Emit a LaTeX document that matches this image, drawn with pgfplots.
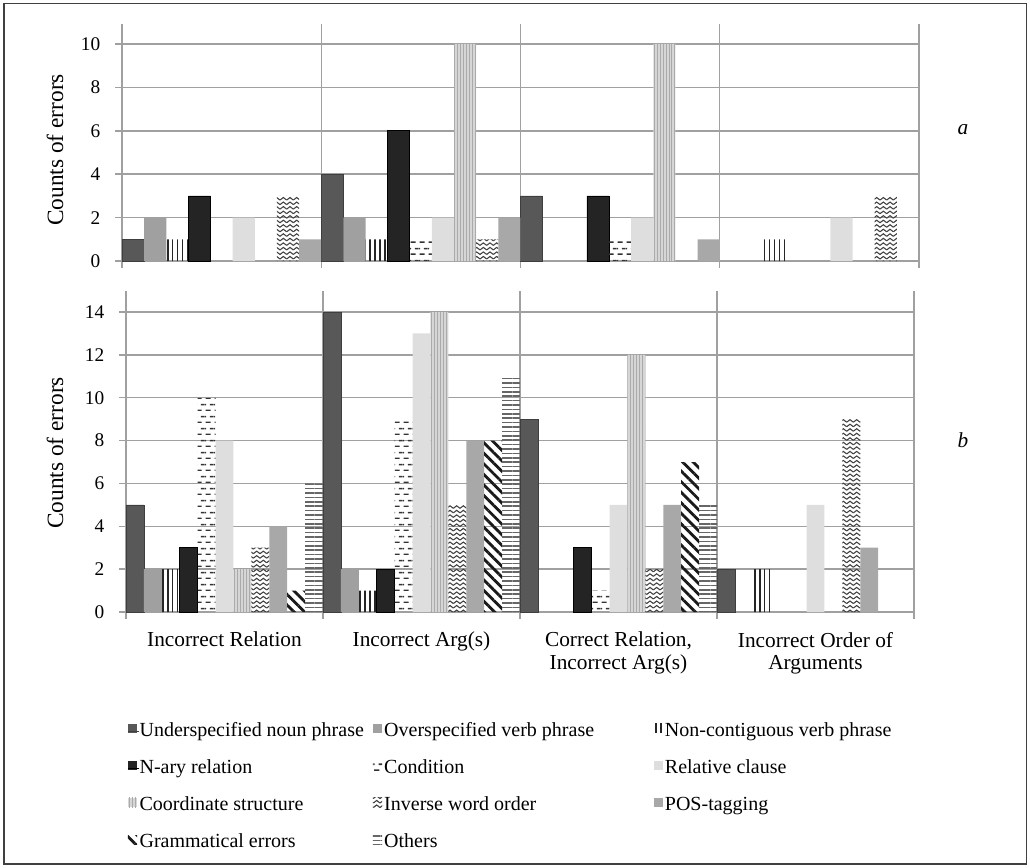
\documentclass[border=0pt]{standalone}
\usepackage{pgfplots}
\pgfplotsset{compat=1.18}
\usepackage{pgfplotstable}
\usepackage{fontspec}
\setmainfont{Liberation Serif}
\usetikzlibrary{patterns,patterns.meta}

\definecolor{gridc}{RGB}{160,160,160}
\definecolor{underc}{RGB}{88,88,88}
\definecolor{overc}{RGB}{160,160,160}
\definecolor{naryc}{RGB}{36,36,36}
\definecolor{relc}{RGB}{222,222,222}
\definecolor{coordc}{RGB}{214,214,214}
\definecolor{coordl}{RGB}{170,170,170}
\definecolor{posc}{RGB}{168,168,168}
\definecolor{framec}{RGB}{64,64,64}

\pgfdeclarepatternformonly{condash}{\pgfqpoint{0pt}{0pt}}{\pgfqpoint{7pt}{9pt}}{\pgfqpoint{7pt}{9pt}}{%
  \pgfpathrectangle{\pgfqpoint{0.5pt}{0pt}}{\pgfqpoint{4pt}{1.2pt}}%
  \pgfpathrectangle{\pgfqpoint{4pt}{4.5pt}}{\pgfqpoint{3pt}{1.2pt}}%
  \pgfpathrectangle{\pgfqpoint{0pt}{4.5pt}}{\pgfqpoint{1pt}{1.2pt}}%
  \pgfusepath{fill}}

\pgfdeclarepatternformonly{zigzag}{\pgfqpoint{-0.5pt}{-0.5pt}}{\pgfqpoint{5.5pt}{3.9pt}}{\pgfqpoint{5pt}{3.4pt}}{%
  \pgfsetlinewidth{0.8pt}%
  \pgfpathmoveto{\pgfqpoint{0pt}{0.4pt}}%
  \pgfpathlineto{\pgfqpoint{2.5pt}{2.3pt}}%
  \pgfpathlineto{\pgfqpoint{5pt}{0.4pt}}%
  \pgfusepath{stroke}}

\pgfplotstableread{
g s1 s2 s3 s4 s5 s6 s7 s8 s9
0 1 2 1 3 0 2 0 3 1
1 4 2 1 6 1 2 10 1 2
2 3 0 0 3 1 2 10 0 1
3 0 0 1 0 0 2 0 3 0
}\topdata

\pgfplotstableread{
g s1 s2 s3 s4 s5 s6 s7 s8 s9 s10 s11
0 5 2 2 3 10 8 2 3 4 1 6
1 14 2 1 2 9 13 14 5 8 8 11
2 9 0 0 3 1 5 12 2 5 7 5
3 2 0 2 0 0 5 0 9 3 0 0
}\botdata

\newcommand\lA[1]{\makebox[175pt][l]{#1}}
\newcommand\lB[1]{\makebox[202pt][l]{#1}}

\pgfplotsset{
  sUnder/.style={fill=underc, draw=underc!70!black, line width=0.5pt},
  sOver/.style={fill=overc, draw=none},
  sNon/.style={draw=none, pattern={Lines[angle=90,distance=3.7pt,line width=1.2pt]}, pattern color=black!85},
  sNary/.style={fill=naryc, draw=black, line width=0.5pt},
  sCond/.style={draw=none, pattern=condash, pattern color=black!80},
  sRel/.style={fill=relc, draw=none},
  sCoord/.style={fill=coordc, draw=none, postaction={pattern={Lines[angle=90,distance=2.2pt,line width=0.4pt]}, pattern color=coordl}},
  sInv/.style={draw=none, pattern=zigzag, pattern color=black!75},
  sPos/.style={fill=posc, draw=none},
  sGram/.style={draw=none, pattern={Lines[angle=-45,distance=5.6pt,line width=2.1pt]}, pattern color=black!90},
  sOth/.style={draw=none, pattern={Lines[angle=0,distance=3.3pt,line width=1.2pt]}, pattern color=black!60},
  mybar/.style={ybar, bar width=#1, bar shift=0pt,
    y filter/.expression={y==0 ? nan : y},
    legend image code/.code={\path[##1, draw=none] (0pt,-1pt) rectangle (7pt,6pt); \path (0pt,0pt) -- (8.5pt,0pt);}},
  common/.style={
    scale only axis,
    xmin=-0.5, xmax=3.5, ymin=0,
    xtick={-0.5,0.5,1.5,2.5,3.5},
    xticklabels={},
    xmajorgrids, ymajorgrids,
    grid style={gridc, line width=1.1pt},
    major tick style={gridc, line width=1.1pt},
    major tick length=5.25pt,
    tick align=outside,
    tick pos=left,
    axis line style={draw=none},
    /pgf/number format/assume math mode=true,
    yticklabel style={font=\fontsize{14.5}{16}\selectfont, xshift=-7.5pt},
    ylabel={Counts of errors},
    ylabel style={font=\fontsize{17.5}{20}\selectfont, anchor=center},
  },
}

\begin{document}
\begin{tikzpicture}
\useasboundingbox (0pt,0pt) rectangle (772.5pt,-650.25pt);
\draw[framec, line width=1.1pt] (3pt,-2.5pt) rectangle (770pt,-648pt);

% top panel (a)
\begin{axis}[common,
  at={(91.5pt,-195.75pt)}, anchor=south west,
  width=597.75pt, height=177.4pt,
  ymax=10.9, ytick={0,2,4,6,8,10},
  ylabel style={at={(axis description cs:-0.084,0.47)}},
]
\addplot[mybar=0.1111, sUnder] table[x expr=\thisrow{g}-0.4444, y=s1] {\topdata};
\addplot[mybar=0.1111, sOver]  table[x expr=\thisrow{g}-0.3333, y=s2] {\topdata};
\addplot[mybar=0.1111, sNon]   table[x expr=\thisrow{g}-0.2222, y=s3] {\topdata};
\addplot[mybar=0.1111, sNary]  table[x expr=\thisrow{g}-0.1111, y=s4] {\topdata};
\addplot[mybar=0.1111, sCond]  table[x expr=\thisrow{g}, y=s5] {\topdata};
\addplot[mybar=0.1111, sRel]   table[x expr=\thisrow{g}+0.1111, y=s6] {\topdata};
\addplot[mybar=0.1111, sCoord] table[x expr=\thisrow{g}+0.2222, y=s7] {\topdata};
\addplot[mybar=0.1111, sInv]   table[x expr=\thisrow{g}+0.3333, y=s8] {\topdata};
\addplot[mybar=0.1111, sPos]   table[x expr=\thisrow{g}+0.4444, y=s9] {\topdata};
\end{axis}

% bottom panel (b)
\begin{axis}[common,
  at={(94.5pt,-459pt)}, anchor=south west,
  width=591pt, height=241.05pt,
  ymax=15, ytick={0,2,4,6,8,10,12,14},
  ylabel style={at={(axis description cs:-0.090,0.495)}},
  extra x ticks={0,1,2,3},
  extra x tick labels={Incorrect Relation, Incorrect Arg(s), {Correct Relation,\\Incorrect Arg(s)}, {Incorrect Order of\\Arguments}},
  extra x tick style={grid=none, major tick length=0pt, tick label style={font=\fontsize{16}{17}\selectfont, align=center, anchor=north, yshift=-11.5pt}},
  legend columns=3,
  legend cell align=left,
  legend style={at={(axis description cs:0.002,-0.345)}, anchor=north west, draw=none, fill=none,
    inner sep=0pt, outer sep=0pt,
    font=\fontsize{15}{17}\selectfont,
    nodes={inner xsep=0pt, inner ysep=0pt, anchor=west, text height=10pt, text depth=3pt},
    row sep=14.9pt, column sep=0pt},
]
\addplot[mybar=0.090909, sUnder] table[x expr=\thisrow{g}-0.45455, y=s1] {\botdata};
\addlegendentry{\lA{Underspecified noun phrase}}
\addplot[mybar=0.090909, sOver]  table[x expr=\thisrow{g}-0.36364, y=s2] {\botdata};
\addlegendentry{\lB{Overspecified verb phrase}}
\addplot[mybar=0.090909, sNon]   table[x expr=\thisrow{g}-0.27273, y=s3] {\botdata};
\addlegendentry{Non-contiguous verb phrase}
\addplot[mybar=0.090909, sNary]  table[x expr=\thisrow{g}-0.18182, y=s4] {\botdata};
\addlegendentry{\lA{N-ary relation}}
\addplot[mybar=0.090909, sCond]  table[x expr=\thisrow{g}-0.09091, y=s5] {\botdata};
\addlegendentry{\lB{Condition}}
\addplot[mybar=0.090909, sRel]   table[x expr=\thisrow{g}, y=s6] {\botdata};
\addlegendentry{Relative clause}
\addplot[mybar=0.090909, sCoord] table[x expr=\thisrow{g}+0.09091, y=s7] {\botdata};
\addlegendentry{\lA{Coordinate structure}}
\addplot[mybar=0.090909, sInv]   table[x expr=\thisrow{g}+0.18182, y=s8] {\botdata};
\addlegendentry{\lB{Inverse word order}}
\addplot[mybar=0.090909, sPos]   table[x expr=\thisrow{g}+0.27273, y=s9] {\botdata};
\addlegendentry{POS-tagging}
\addplot[mybar=0.090909, sGram]  table[x expr=\thisrow{g}+0.36364, y=s10] {\botdata};
\addlegendentry{\lA{Grammatical errors}}
\addplot[mybar=0.090909, sOth]   table[x expr=\thisrow{g}+0.45455, y=s11] {\botdata};
\addlegendentry{\lB{Others}}
\end{axis}

\node[font=\itshape\fontsize{16}{18}\selectfont] at (722.25pt,-97.5pt) {a};
\node[font=\itshape\fontsize{16}{18}\selectfont] at (722.25pt,-330pt) {b};
\end{tikzpicture}
\end{document}
